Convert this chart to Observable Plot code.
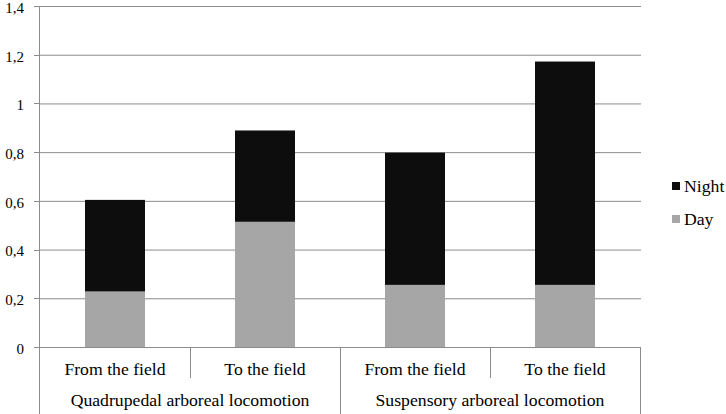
<!DOCTYPE html>
<html>
<head>
<meta charset="utf-8">
<script src="https://cdn.jsdelivr.net/npm/d3@7"></script>
<script src="https://cdn.jsdelivr.net/npm/@observablehq/plot@0.6"></script>
<style>
  html, body { margin: 0; padding: 0; background: #fff; }
  #wrap { position: relative; width: 726px; height: 414px; }
</style>
</head>
<body>
<div id="wrap"></div>
<script>
const groups = ["Quadrupedal arboreal locomotion", "Suspensory arboreal locomotion"];
const directions = ["From the field", "To the field"];
const dayValues = [0.228, 0.514, 0.255, 0.255];
const nightValues = [0.376, 0.375, 0.543, 0.917];
const periods = ["Day", "Night"];
const periodColors = ["#a6a6a6", "#0d0d0d"];
const legendOrder = ["Night", "Day"];
const yTicks = [0, 0.2, 0.4, 0.6, 0.8, 1.0, 1.2, 1.4];

const keys = [];
groups.forEach(g => directions.forEach(d => keys.push(g + "|" + d)));
const rows = [];
keys.forEach((k, i) => rows.push({key: k, period: "Day", value: dayValues[i]}));
keys.forEach((k, i) => rows.push({key: k, period: "Night", value: nightValues[i]}));

const fmt = d => String(+d.toFixed(1)).replace(".", ",");
const gridColor = "#8c8c8c";
const serif = "Liberation Serif, serif";
const xFont = 17.7;
const yFont = 15;

function axes(index, scales, values, dims) {
  const x = scales.x, y = scales.y;
  const step = x(keys[1]) - x(keys[0]);
  const bw = step * (1 - 0.6);
  const pad = (step - bw) / 2;
  const y0 = dims.height - dims.marginBottom;
  const yEnd = dims.height;
  const g = d3.create("svg:g").attr("font-family", serif).attr("font-size", xFont);
  // left vertical axis line
  g.append("line").attr("x1", dims.marginLeft + 0.5).attr("x2", dims.marginLeft + 0.5)
    .attr("y1", dims.marginTop).attr("y2", yEnd).attr("stroke", gridColor);
  // y tick marks and labels
  yTicks.forEach(t => {
    const yy = Math.round(y(t)) + 0.5;
    g.append("line").attr("x1", dims.marginLeft - 5).attr("x2", dims.marginLeft)
      .attr("y1", yy).attr("y2", yy).attr("stroke", gridColor);
    g.append("text").attr("x", dims.marginLeft - 15).attr("y", y(t) + 2)
      .attr("dy", "0.32em").attr("text-anchor", "end").attr("font-size", yFont)
      .attr("fill", "#000").text(fmt(t));
  });
  // bottom axis line
  g.append("line").attr("x1", dims.marginLeft).attr("x2", dims.width - dims.marginRight)
    .attr("y1", y0 + 0.5).attr("y2", y0 + 0.5).attr("stroke", gridColor);
  keys.forEach((k, i) => {
    const left = x(k) - pad;
    const right = left + step;
    const groupStart = i % directions.length === 0;
    if (i > 0) {
      g.append("line").attr("x1", Math.round(left) + 0.5).attr("x2", Math.round(left) + 0.5)
        .attr("y1", y0).attr("y2", groupStart ? yEnd : y0 + 31).attr("stroke", gridColor);
    }
    if (i === keys.length - 1) {
      g.append("line").attr("x1", Math.round(right) + 0.5).attr("x2", Math.round(right) + 0.5)
        .attr("y1", y0).attr("y2", yEnd).attr("stroke", gridColor);
    }
    g.append("text").attr("x", x(k) + bw / 2).attr("y", y0 + 28).attr("text-anchor", "middle")
      .attr("fill", "#000").text(k.split("|")[1]);
  });
  groups.forEach(gr => {
    const ks = keys.filter(k => k.startsWith(gr + "|"));
    const left = x(ks[0]) - pad;
    const right = x(ks[ks.length - 1]) - pad + step;
    g.append("text").attr("x", (left + right) / 2).attr("y", y0 + 59).attr("text-anchor", "middle")
      .attr("fill", "#000").text(gr);
  });
  // legend
  const lx = dims.width - dims.marginRight + 31;
  legendOrder.forEach((p, i) => {
    const top = 182 + i * 33;
    g.append("rect").attr("x", lx).attr("y", top).attr("width", 8).attr("height", 8)
      .attr("fill", scales.color(p));
    g.append("text").attr("x", lx + 12).attr("y", top + 10).attr("text-anchor", "start")
      .attr("fill", "#000").text(p);
  });
  return g.node();
}

const plot = Plot.plot({
  width: 726,
  height: 414,
  marginTop: 6,
  marginBottom: 67,
  marginLeft: 39,
  marginRight: 85,
  style: {fontFamily: serif, fontSize: xFont + "px", background: "#fff", overflow: "visible"},
  x: {domain: keys, paddingInner: 0.6, paddingOuter: 0.3, axis: null},
  y: {domain: [0, 1.4], axis: null},
  color: {domain: periods, range: periodColors},
  marks: [
    Plot.ruleY(yTicks, {stroke: gridColor, strokeWidth: 1}),
    Plot.barY(rows, {x: "key", y: "value", fill: "period", order: null}),
    axes
  ]
});
document.getElementById("wrap").append(plot);
</script>
</body>
</html>
